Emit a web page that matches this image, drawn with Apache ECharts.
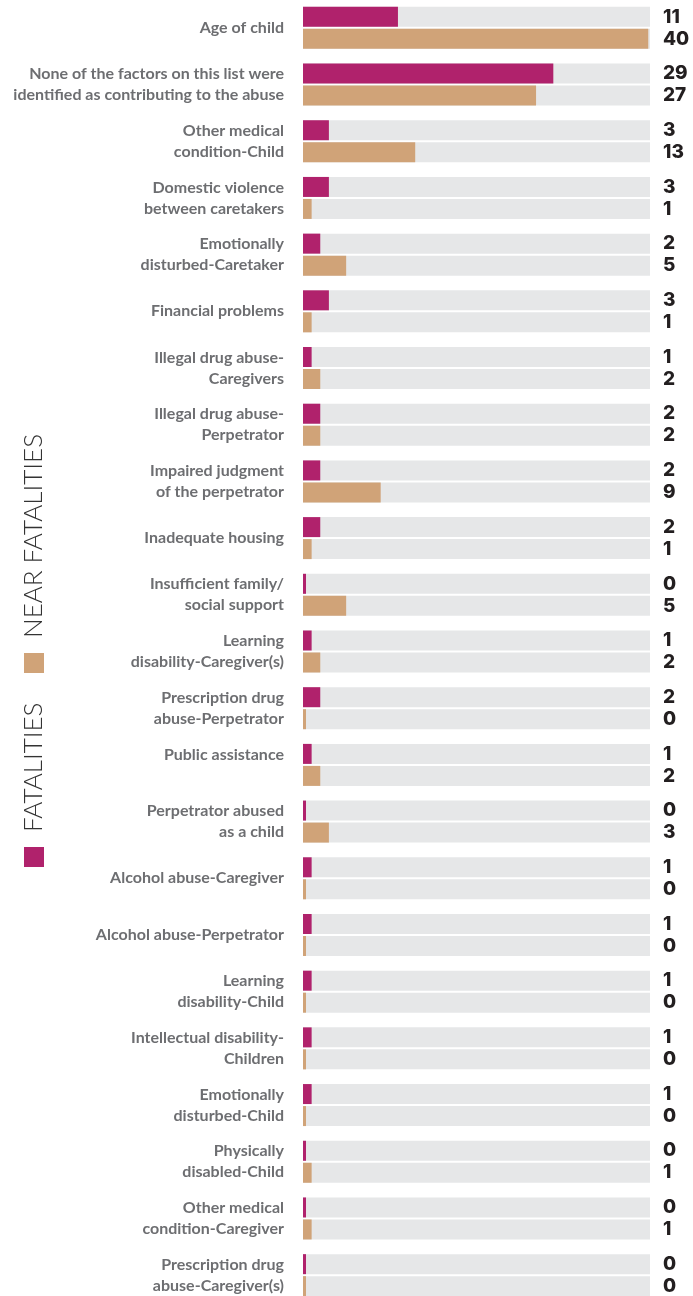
<!DOCTYPE html>
<html><head><meta charset="utf-8">
<script src="https://cdn.jsdelivr.net/npm/echarts@6/dist/echarts.min.js"></script>
<style>html,body{margin:0;padding:0;background:#fff}#c{width:693px;height:1296px}</style>
</head><body><div id="c"></div>
<script>
const categories = [
  'Age of child',
  'None of the factors on this list were\nidentified as contributing to the abuse',
  'Other medical\ncondition-Child',
  'Domestic violence\nbetween caretakers',
  'Emotionally\ndisturbed-Caretaker',
  'Financial problems',
  'Illegal drug abuse-\nCaregivers',
  'Illegal drug abuse-\nPerpetrator',
  'Impaired judgment\nof the perpetrator',
  'Inadequate housing',
  'Insufficient family/\nsocial support',
  'Learning\ndisability-Caregiver(s)',
  'Prescription drug\nabuse-Perpetrator',
  'Public assistance\n',
  'Perpetrator abused\nas a child',
  'Alcohol abuse-Caregiver',
  'Alcohol abuse-Perpetrator',
  'Learning\ndisability-Child',
  'Intellectual disability-\nChildren',
  'Emotionally\ndisturbed-Child',
  'Physically\ndisabled-Child',
  'Other medical\ncondition-Caregiver',
  'Prescription drug\nabuse-Caregiver(s)'
];
const fatalities     = [11, 29, 3, 3, 2, 3, 1, 2, 2, 2, 0, 1, 2, 1, 0, 1, 1, 1, 1, 1, 0, 0, 0];
const nearFatalities = [40, 27, 13, 1, 5, 1, 2, 2, 9, 1, 5, 2, 0, 2, 3, 0, 0, 0, 0, 0, 1, 1, 0];
const seriesNames = ['FATALITIES', 'NEAR FATALITIES'];
const colors = ['#b0226c', '#d0a378'];

const chart = echarts.init(document.getElementById('c'), null, {renderer: 'canvas'});
const labelStyle = {
  show: true,
  position: [360, 10],
  align: 'left',
  verticalAlign: 'middle',
  formatter: '{c}',
  fontFamily: 'Inter',
  fontSize: 19,
  fontWeight: 800,
  color: '#231f20'
};
function barSeries(name, data, color) {
  return {
    name: name,
    type: 'bar',
    data: data,
    barWidth: 20,
    barGap: '10%',
    barMinHeight: 3,
    itemStyle: {color: color},
    showBackground: true,
    backgroundStyle: {color: '#e6e7e8'},
    label: labelStyle,
    silent: true,
    animation: false
  };
}
chart.setOption({
  animation: false,
  grid: {left: 303, right: 43, top: -0.5, bottom: -7.5, containLabel: false, outerBoundsMode: 'none'},
  xAxis: {type: 'value', min: 0, max: 40.2, show: false},
  yAxis: {
    type: 'category',
    inverse: true,
    data: categories,
    axisLine: {show: false},
    axisTick: {show: false},
    splitLine: {show: false},
    axisLabel: {
      margin: 19,
      align: 'right',
      fontFamily: 'Lato',
      fontSize: 16,
      fontWeight: 'bold',
      lineHeight: 21,
      color: '#6d6e71'
    }
  },
  series: [
    barSeries(seriesNames[0], fatalities, colors[0]),
    barSeries(seriesNames[1], nearFatalities, colors[1])
  ],
  graphic: [
    {type: 'rect', left: 24, top: 653, shape: {width: 20, height: 20}, style: {fill: colors[1]}},
    {type: 'text', x: 34, y: 638, rotation: Math.PI / 2,
     style: {text: seriesNames[1], x: 0, y: 0, align: 'left', verticalAlign: 'middle',
             font: '300 26px Lato', fill: '#333'}},
    {type: 'rect', left: 24, top: 847, shape: {width: 20, height: 20}, style: {fill: colors[0]}},
    {type: 'text', x: 34, y: 832, rotation: Math.PI / 2,
     style: {text: seriesNames[0], x: 0, y: 0, align: 'left', verticalAlign: 'middle',
             font: '300 26px Lato', fill: '#333'}}
  ]
});
</script></body></html>
